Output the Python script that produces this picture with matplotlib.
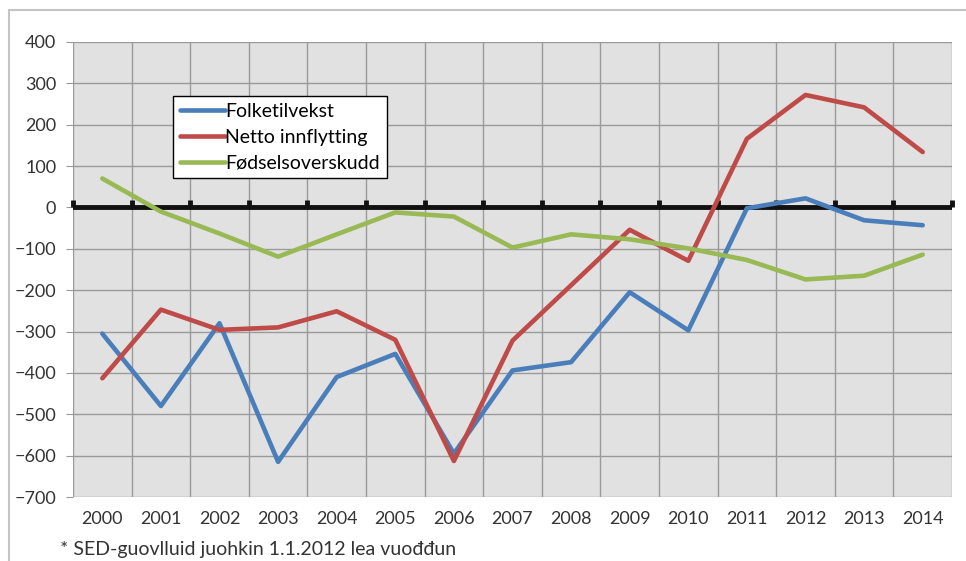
"""
Folketilvekst / netto innflytting / fødselsoverskudd 2000-2014, Excel-style line chart.
"""
import numpy as np
import matplotlib
matplotlib.use("Agg")
import matplotlib.pyplot as plt
from matplotlib.patches import Rectangle

# --- Data ---
years = [str(y) for y in range(2000, 2015)]
folketilvekst = [-305, -480, -280, -615, -410, -354, -595, -394, -374, -205, -297, -2, 22, -31, -43]
netto_innflytting = [-413, -247, -296, -290, -251, -320, -613, -322, -188, -54, -129, 166, 272, 242, 134]
fodselsoverskudd = [70, -10, -63, -119, -65, -12, -22, -97, -65, -77, -99, -127, -174, -165, -114]

labels = ["Folketilvekst", "Netto innflytting", "Fødselsoverskudd"]
colors = ["#4a7ebb", "#be4b48", "#98b954"]
footnote = "* SED-guovlluid juohkin 1.1.2012 lea vuođđun"

Y_MIN, Y_MAX = -700, 400
FS = 13
plt.rcParams["font.family"] = ["Lato", "DejaVu Sans"]

W, H = 966, 561
fig = plt.figure(figsize=(W / 100, H / 100), dpi=100, facecolor="white")
ax = fig.add_axes([73 / W, (H - 497) / H, (952 - 73) / W, (497 - 42) / H])
ax.set_facecolor("#e1e1e1")

x = np.arange(len(years))
for series, label, color in zip([folketilvekst, netto_innflytting, fodselsoverskudd], labels, colors):
    ax.plot(x, series, color=color, lw=3.3, label=label, solid_capstyle="round", zorder=3)

# --- Axes / grid ---
ax.set_xlim(-0.5, len(years) - 0.5)
ax.set_ylim(Y_MIN, Y_MAX)
ax.set_xticks(x)
ax.set_xticklabels(years, fontsize=FS, color="#333333")
ax.set_xticks(np.arange(len(years) + 1) - 0.5, minor=True)
ax.tick_params(axis="x", which="both", length=0, pad=10)
ax.set_yticks(np.arange(Y_MIN, Y_MAX + 1, 100))
ax.tick_params(axis="y", length=5, color="#999999", labelsize=FS, labelcolor="#333333", pad=7)
ax.grid(axis="y", which="major", color="#9a9a9a", lw=1)
ax.grid(axis="x", which="minor", color="#9a9a9a", lw=1)
ax.set_axisbelow(True)
for s in ax.spines.values():
    s.set_visible(False)

# zero line with category-boundary tick marks (Excel axis crossing at 0)
ax.axhline(0, color="#111111", lw=3.5, zorder=2.4)
zero_frac = (0 - Y_MIN) / (Y_MAX - Y_MIN)
sec = ax.secondary_xaxis(zero_frac)
sec.set_xticks(np.arange(len(years) + 1) - 0.5)
sec.set_xticklabels([])
sec.tick_params(direction="out", length=5, width=3.5, color="#111111")
for s in sec.spines.values():
    s.set_visible(False)
sec.set_zorder(2.5)

# --- Legend ---
leg = ax.legend(loc="upper left", bbox_to_anchor=(100 / 879, (455 - 54) / 455), fontsize=14,
                frameon=True, fancybox=False, handlelength=2.3, handletextpad=0.05,
                borderpad=0.35, labelspacing=0.45, borderaxespad=0)
leg.get_frame().set_edgecolor("black")
leg.get_frame().set_linewidth(1.0)
leg.get_frame().set_facecolor("white")
leg.get_frame().set_alpha(1)

# --- Footnote & outer frame ---
fig.text(60 / W, 1 - 549 / H, footnote, fontsize=14, color="#333333", ha="left", va="center")
fig.patches.append(Rectangle((9 / W, -0.1), 1.2, 1.1 - 10 / H, transform=fig.transFigure,
                             fill=False, edgecolor="#c4c4c4", lw=1.5))

fig.savefig("out.png", dpi=100, facecolor="white")
